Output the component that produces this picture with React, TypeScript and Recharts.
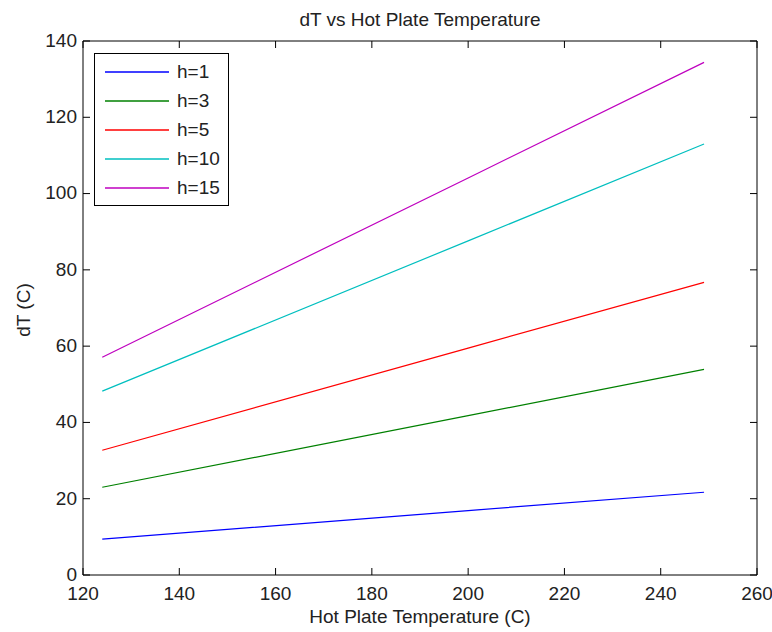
import {
  LineChart,
  Line,
  XAxis,
  YAxis,
  ReferenceArea
} from "recharts";

const temps = [124, 200, 249];
const h1 = [9.4, 16.9, 21.7];
const h3 = [23.0, 41.8, 53.9];
const h5 = [32.7, 59.5, 76.7];
const h10 = [48.2, 87.6, 113.0];
const h15 = [57.1, 104.1, 134.4];

const xTicks = [120, 140, 160, 180, 200, 220, 240, 260];
const yTicks = [0, 20, 40, 60, 80, 100, 120, 140];

const series = [
  { key: "h1", name: "h=1", color: "#0000ff", values: h1 },
  { key: "h3", name: "h=3", color: "#008000", values: h3 },
  { key: "h5", name: "h=5", color: "#ff0000", values: h5 },
  { key: "h10", name: "h=10", color: "#00bfbf", values: h10 },
  { key: "h15", name: "h=15", color: "#bf00bf", values: h15 }
];

const data = temps.map((t, i) => {
  const row: Record<string, number> = { x: t };
  series.forEach((s) => {
    row[s.key] = s.values[i];
  });
  return row;
});

// plot box (MATLAB style axes)
const W = 772;
const H = 632;
const LEFT = 83;
const RIGHT = 757;
const TOP = 41;
const BOTTOM = 575;
const TICK = 7;

const font = "'Liberation Sans', Arial, sans-serif";
const fontSize = 19;

function XTick(props: any) {
  const x = props.payload.coordinate;
  return (
    <g>
      <line x1={x} x2={x} y1={BOTTOM} y2={BOTTOM - TICK} stroke="#000" />
      <line x1={x} x2={x} y1={TOP} y2={TOP + TICK} stroke="#000" />
      <text
        x={x}
        y={BOTTOM + 11}
        dy="0.72em"
        textAnchor="middle"
        fill="#222"
        fontSize={fontSize}
        fontFamily={font}
      >
        {props.payload.value}
      </text>
    </g>
  );
}

function YTick(props: any) {
  const y = props.payload.coordinate;
  return (
    <g>
      <line x1={LEFT} x2={LEFT + TICK} y1={y} y2={y} stroke="#000" />
      <line x1={RIGHT} x2={RIGHT - TICK} y1={y} y2={y} stroke="#000" />
      <text
        x={LEFT - 6}
        y={y - 1}
        dy="0.36em"
        textAnchor="end"
        fill="#222"
        fontSize={fontSize}
        fontFamily={font}
      >
        {props.payload.value}
      </text>
    </g>
  );
}

function LegendBox() {
  return (
    <div
      style={{
        position: "absolute",
        left: 94,
        top: 53,
        border: "1px solid #000",
        background: "#fff",
        width: 135,
        height: 153,
        boxSizing: "border-box",
        paddingTop: 3,
        fontFamily: font,
        fontSize: fontSize,
        color: "#222"
      }}
    >
      {series.map((s) => (
        <div
          key={s.key}
          style={{ display: "flex", alignItems: "center", height: 29 }}
        >
          <svg width={64} height={4} style={{ marginLeft: 10 }}>
            <line x1={0} x2={64} y1={2} y2={2} stroke={s.color} strokeWidth={1.3} />
          </svg>
          <span style={{ marginLeft: 8 }}>{s.name}</span>
        </div>
      ))}
    </div>
  );
}

export default function App() {
  return (
    <div
      style={{
        position: "absolute",
        left: 0,
        top: 0,
        width: W,
        height: H,
        background: "#fff",
        fontFamily: font,
        color: "#222"
      }}
    >
      <div
        style={{
          position: "absolute",
          left: LEFT,
          width: RIGHT - LEFT,
          top: 8,
          textAlign: "center",
          fontSize: fontSize,
          lineHeight: "24px"
        }}
      >
        dT vs Hot Plate Temperature
      </div>

      <div
        style={{
          position: "absolute",
          left: LEFT,
          width: RIGHT - LEFT,
          top: 605,
          textAlign: "center",
          fontSize: fontSize,
          lineHeight: "24px"
        }}
      >
        Hot Plate Temperature (C)
      </div>

      <div
        style={{
          position: "absolute",
          left: 24,
          top: 310,
          transform: "translate(-50%, -50%) rotate(-90deg)",
          fontSize: fontSize,
          lineHeight: "24px",
          whiteSpace: "nowrap"
        }}
      >
        dT (C)
      </div>

      <LineChart
        width={W}
        height={H}
        data={data}
        margin={{ top: TOP, right: W - RIGHT, bottom: 0, left: 0 }}
      >
        <XAxis
          dataKey="x"
          type="number"
          domain={[120, 260]}
          ticks={xTicks}
          height={H - BOTTOM}
          axisLine={false}
          tickLine={false}
          tick={<XTick />}
          interval={0}
        />
        <YAxis
          type="number"
          domain={[0, 140]}
          ticks={yTicks}
          width={LEFT}
          axisLine={false}
          tickLine={false}
          tick={<YTick />}
          interval={0}
        />
        <ReferenceArea
          x1={120}
          x2={260}
          y1={0}
          y2={140}
          fill="none"
          fillOpacity={0}
          stroke="#000"
          strokeWidth={1}
        />
        {series.map((s) => (
          <Line
            key={s.key}
            type="linear"
            dataKey={s.key}
            name={s.name}
            stroke={s.color}
            strokeWidth={1.2}
            dot={false}
            isAnimationActive={false}
          />
        ))}
      </LineChart>

      <LegendBox />
    </div>
  );
}
